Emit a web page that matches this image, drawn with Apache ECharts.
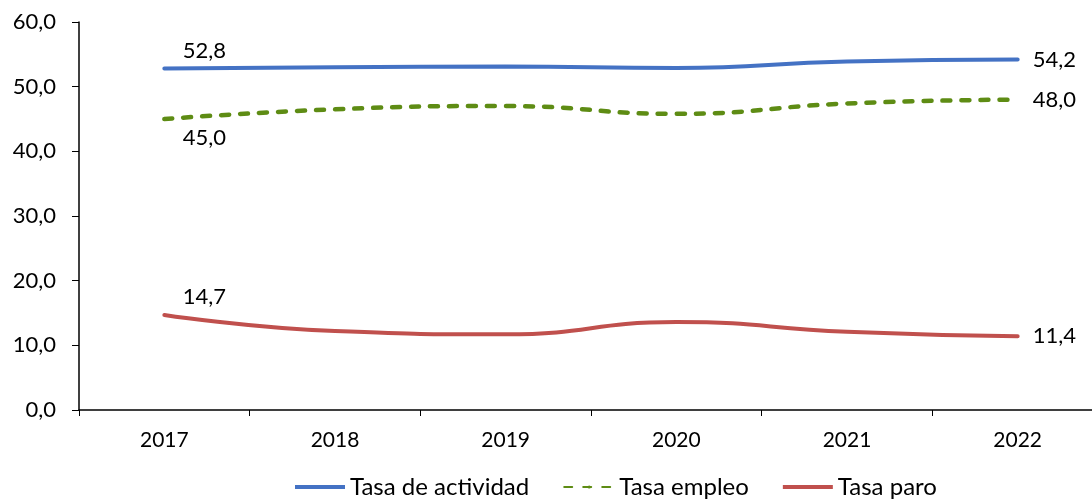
<!DOCTYPE html>
<html>
<head>
<meta charset="utf-8">
<script src="https://cdn.jsdelivr.net/npm/echarts@6/dist/echarts.min.js"></script>
<style>
  html, body { margin: 0; padding: 0; background: #fff; overflow: hidden; }
  #chart { width: 1103px; height: 504px; }
</style>
</head>
<body>
<div id="chart"></div>
<script>
const years = ['2017', '2018', '2019', '2020', '2021', '2022'];
const actividad = [52.8, 53.0, 53.1, 52.9, 53.9, 54.2];
const empleo = [45.0, 46.5, 47.0, 45.8, 47.4, 48.0];
const paro = [14.7, 12.2, 11.7, 13.6, 12.1, 11.4];

const FONT = 'Lato';
const fmt = v => v.toFixed(1).replace('.', ',');

// only first and last point get a label
function withEndLabels(values, firstPos, firstOffset) {
  return values.map((v, i) => {
    if (i === 0) {
      return { value: v, label: { show: true, position: firstPos, offset: firstOffset } };
    }
    if (i === values.length - 1) {
      return { value: v, label: { show: true, position: 'right', offset: [10, 0] } };
    }
    return v;
  });
}

// plot area runs a little past the right edge of the window, as in the original
const chart = echarts.init(document.getElementById('chart'));

const labelStyle = {
  show: false,
  color: '#000',
  fontFamily: FONT,
  fontSize: 22,
  formatter: p => fmt(p.value)
};

function lineSeries(name, values, color, width, dash, firstPos, firstOffset) {
  return {
    name: name,
    type: 'line',
    smooth: true,
    symbol: 'circle',
    symbolSize: 0,
    showSymbol: true,
    data: withEndLabels(values, firstPos, firstOffset),
    lineStyle: { color: color, width: width, type: dash, cap: 'round' },
    itemStyle: { color: color },
    label: labelStyle
  };
}

chart.setOption({
  animation: false,
  textStyle: { fontFamily: FONT },
  grid: { left: 79, right: 0, top: 22, bottom: 94 },
  legend: {
    bottom: 0,
    left: 290,
    itemWidth: 50,
    itemHeight: 4,
    itemGap: 34,
    textStyle: { fontFamily: FONT, fontSize: 24, color: '#000' },
    data: [
      { name: 'Tasa de actividad', icon: 'rect' },
      { name: 'Tasa empleo' },
      { name: 'Tasa paro', icon: 'rect' }
    ]
  },
  xAxis: {
    type: 'category',
    data: years,
    boundaryGap: true,
    axisLine: { lineStyle: { color: '#000', width: 1.5 } },
    axisTick: { show: true, length: 6, lineStyle: { color: '#000' } },
    axisLabel: { color: '#000', fontSize: 21, fontFamily: FONT, margin: 20 }
  },
  yAxis: {
    type: 'value',
    min: 0,
    max: 60,
    interval: 10,
    splitLine: { show: false },
    axisLine: { show: true, lineStyle: { color: '#000', width: 1.5 } },
    axisTick: { show: true, length: 7, lineStyle: { color: '#000' } },
    axisLabel: { color: '#000', fontSize: 22, fontFamily: FONT, margin: 23, formatter: v => fmt(v) }
  },
  series: [
    lineSeries('Tasa de actividad', actividad, '#4472C4', 4, 'solid', 'top', [40, -2]),
    lineSeries('Tasa empleo', empleo, '#5E8C14', 4.5, [8, 11], 'bottom', [40, 3]),
    lineSeries('Tasa paro', paro, '#C0504D', 4, 'solid', 'top', [40, -2])
  ]
});
</script>
</body>
</html>
